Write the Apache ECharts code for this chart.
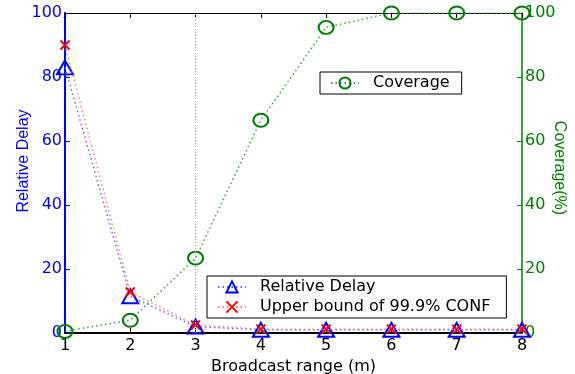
<!DOCTYPE html>
<html><head><meta charset="utf-8">
<script src="https://cdn.jsdelivr.net/npm/echarts@6/dist/echarts.min.js"></script>
<style>html,body{margin:0;padding:0;background:#fff}#c{width:575px;height:374px}</style>
</head><body><div id="c"></div>
<script>
const ranges = [1, 2, 3, 4, 5, 6, 7, 8];
const relativeDelay = [83, 11.5, 2, 1, 1, 1, 1, 1];
const upperBound = [90, 12.8, 2.5, 1.2, 1.2, 1.2, 1.2, 1.2];
const coverage = [0.5, 4, 23.4, 66.5, 95.5, 100, 100, 100];
const delayTicks = [0, 20, 40, 60, 80, 100];
const coverageTicks = [0, 20, 40, 60, 80, 100];

const WIDE = '"DejaVu Sans", sans-serif';
const NARROW = '"Liberation Sans", Arial, sans-serif';
const chart = echarts.init(document.getElementById('c'), null, {renderer: 'canvas'});
const pair = a => a.map((v, i) => [ranges[i], v]);
const xPath = 'path://M0,0L10,10M10,0L0,10';

chart.setOption({
  animation: false,
  grid: {left: 65, right: 53, top: 13, bottom: 41, outerBoundsMode: 'none', containLabel: false},
  legend: [
    {
      data: ['Relative Delay', 'Upper bound of 99.9% CONF'],
      orient: 'vertical', left: 207, top: 276,
      borderColor: '#000', borderWidth: 1, padding: [3, 16, 3, 10],
      itemGap: 4, itemWidth: 28, itemHeight: 14,
      textStyle: {fontFamily: WIDE, fontSize: 16, color: '#000', padding: [0, 0, 0, 9]},
      selectedMode: false
    },
    {
      data: ['Coverage'],
      orient: 'vertical', left: 320, top: 72,
      borderColor: '#000', borderWidth: 1, padding: [3, 12, 3, 10],
      itemWidth: 28, itemHeight: 14,
      textStyle: {fontFamily: WIDE, fontSize: 16, color: '#000', padding: [0, 0, 0, 9]},
      selectedMode: false
    }
  ],
  xAxis: [
    {
      type: 'value', min: 1, max: 8, interval: 1, position: 'bottom',
      name: 'Broadcast range (m)', nameLocation: 'middle', nameGap: 18,
      nameTextStyle: {fontFamily: WIDE, fontSize: 16, color: '#000'},
      axisLine: {onZero: false, lineStyle: {color: '#000', width: 2}},
      axisTick: {inside: true, length: 5, lineStyle: {color: '#000'}},
      axisLabel: {fontFamily: WIDE, fontSize: 16, color: '#000', margin: 5},
      splitLine: {show: false}
    },
    {
      type: 'value', min: 1, max: 8, interval: 1, position: 'top',
      axisLine: {onZero: false, lineStyle: {color: '#000', width: 1}},
      axisTick: {inside: true, length: 5, lineStyle: {color: '#000'}},
      axisLabel: {show: false},
      splitLine: {show: false}
    }
  ],
  yAxis: [
    {
      type: 'value', min: 0, max: 100, interval: 20, position: 'left',
      name: 'Relative Delay', nameLocation: 'middle', nameGap: 33, nameMoveOverlap: false,
      nameTextStyle: {fontFamily: NARROW, fontSize: 16, color: '#0000ff', padding: [0, 0, 0, 24]},
      axisLine: {show: true, onZero: false, lineStyle: {color: '#0000ff', width: 2}},
      axisTick: {inside: true, length: 5, lineStyle: {color: '#0000ff'}},
      axisLabel: {fontFamily: WIDE, fontSize: 16, color: '#0000ff', margin: 3},
      splitLine: {show: false}
    },
    {
      type: 'value', min: 0, max: 100, interval: 20, position: 'right',
      name: 'Coverage(%)', nameLocation: 'middle', nameGap: 29, nameRotate: -90, nameMoveOverlap: false,
      nameTextStyle: {fontFamily: NARROW, fontSize: 16, color: '#008000', padding: [0, 10, 0, 0]},
      axisLine: {show: true, onZero: false, lineStyle: {color: '#008000', width: 1.5}},
      axisTick: {inside: true, length: 5, lineStyle: {color: '#008000'}},
      axisLabel: {fontFamily: WIDE, fontSize: 16, color: '#008000', margin: 3},
      splitLine: {show: false}
    }
  ],
  series: [
    {
      name: 'Relative Delay', type: 'line', data: pair(relativeDelay),
      xAxisIndex: 0, yAxisIndex: 0, z: 3,
      symbol: 'triangle', symbolSize: [16, 14],
      itemStyle: {color: 'rgba(0,0,0,0)', borderColor: '#0000ff', borderWidth: 2},
      lineStyle: {color: '#6666ff', width: 1.5, type: [1.5, 3]},
      markLine: {
        silent: true, symbol: 'none', label: {show: false},
        lineStyle: {color: '#999', type: [1, 2], width: 1},
        data: [{xAxis: 3}]
      }
    },
    {
      name: 'Upper bound of 99.9% CONF', type: 'line', data: pair(upperBound),
      xAxisIndex: 0, yAxisIndex: 0, z: 4,
      symbol: xPath, symbolSize: 9,
      itemStyle: {color: 'rgba(0,0,0,0)', borderColor: '#ff0000', borderWidth: 2},
      lineStyle: {color: '#ff8080', width: 1.5, type: [1.5, 3]}
    },
    {
      name: 'Coverage', type: 'line', data: pair(coverage),
      xAxisIndex: 0, yAxisIndex: 1, z: 3,
      symbol: 'circle', symbolSize: [15, 13],
      itemStyle: {color: 'rgba(0,0,0,0)', borderColor: '#008000', borderWidth: 2},
      lineStyle: {color: '#40a040', width: 1.5, type: [1.5, 3]}
    }
  ]
});
</script></body></html>
